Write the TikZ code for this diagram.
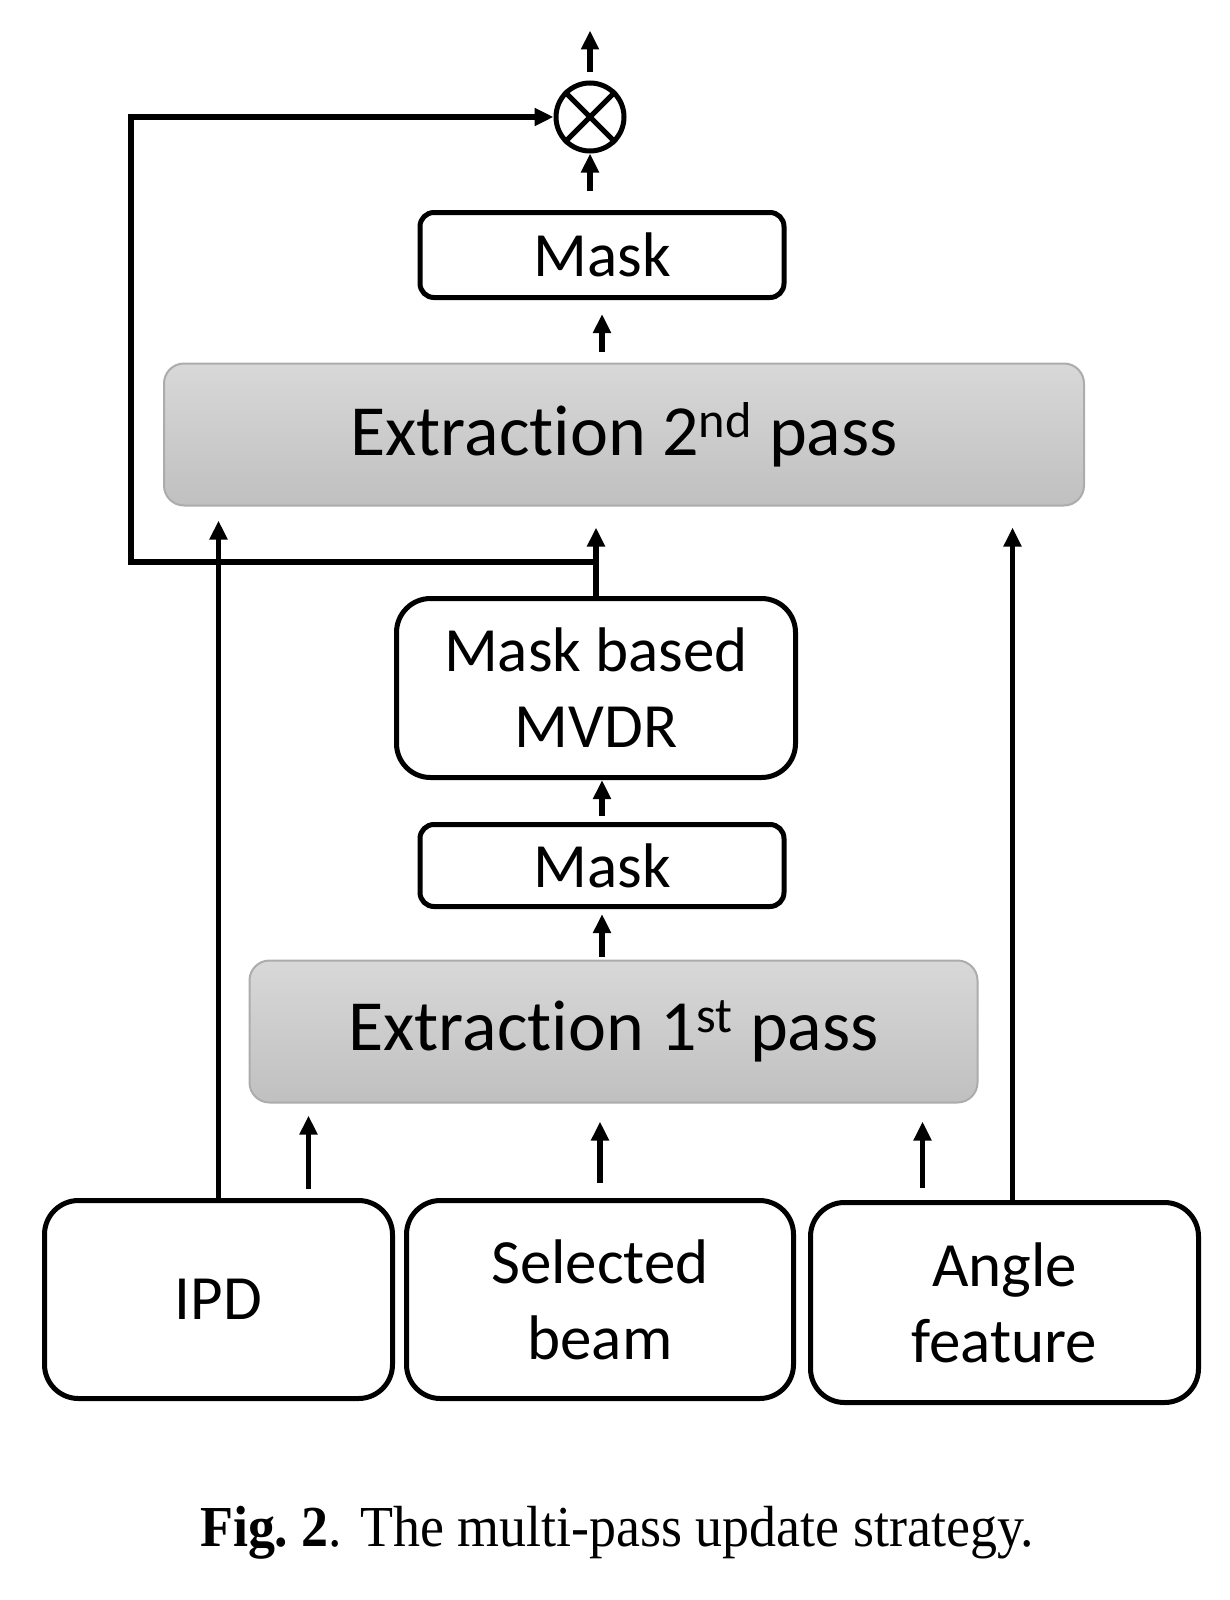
\documentclass[tikz,border=0pt]{standalone}
\usepackage{fontspec}
\setmainfont{Liberation Serif}
\newfontfamily\boxfont[Ligatures={NoCommon,NoContextual},RawFeature={-liga;-calt;-clig}]{Carlito}
\usetikzlibrary{arrows.meta}
\usetikzlibrary{calc}
\definecolor{passtop}{RGB}{216,216,216}
\definecolor{passbot}{RGB}{192,192,192}
\definecolor{passrim}{RGB}{172,172,172}

\begin{document}
\begin{tikzpicture}[x=0.5pt,y=-0.5pt,>={Triangle[length=9.5pt,width=8.5pt]},line width=2.75pt,
        box/.style={draw, line width=2.5pt, rounded corners=7pt, align=center, inner sep=0pt,
            font=\boxfont\fontsize{31.5pt}{38pt}\selectfont},
        bigbox/.style={box, rounded corners=17pt},
        passbox/.style={draw=passrim, line width=1pt, rounded corners=10pt, top color=passtop, bottom color=passbot,
            inner sep=0pt, font=\boxfont\fontsize{36pt}{44pt}\selectfont}]
        \useasboundingbox (0,0) rectangle (1230,1600);
        % inputs
        \node[bigbox, minimum width=174pt, minimum height=99pt] (ipd) at (218.5,1299.5) {IPD};
        \node[bigbox, minimum width=193.5pt, minimum height=99pt] (beam) at (600,1299.5) {Selected\\beam};
        \node[bigbox, minimum width=194pt, minimum height=100pt] (angle) at (1004.5,1302.5) {Angle\\feature};
        % first pass
        \node[passbox, minimum width=364pt, minimum height=71pt] (ext1) at (613.5,1031.5) {Extraction 1\textsuperscript{st} pass};
        \node[box, minimum width=182pt, minimum height=41pt] (mask1) at (602,865.5) {Mask};
        \node[bigbox, minimum width=199.5pt, minimum height=89.5pt] (mvdr) at (596,688) {Mask based\\MVDR};
        % second pass
        \node[passbox, minimum width=460pt, minimum height=71pt] (ext2) at (624,434.5) {Extraction 2\textsuperscript{nd} pass};
        \node[box, minimum width=182pt, minimum height=42.5pt] (mask2) at (602,255) {Mask};
        \node[draw, circle, line width=2.5pt, minimum size=34pt, inner sep=0pt] (mult) at (590,117) {};
        \draw[line width=2.5pt] (mult.north west) -- (mult.south east) (mult.north east) -- (mult.south west);

        \draw[->, shorten <=4.5pt, shorten >=6pt] ($(ipd.north)+(90,0)$) -- ($(ipd.north |- ext1.south)+(90,0)$);
        \draw[->, shorten <=7.5pt, shorten >=9pt] (beam.north) -- (beam.north |- ext1.south);
        \draw[->, shorten <=6pt, shorten >=9pt] ($(angle.north)+(-82,0)$) -- ($(angle.north |- ext1.south)+(-82,0)$);
        \draw[->, shorten >=7pt] (ipd.north) -- (ipd.north |- ext2.south);
        \draw[->, shorten >=10.5pt] ($(angle.north)+(8,0)$) -- ($(angle.north |- ext2.south)+(8,0)$);

        \draw[->, shorten <=1.5pt, shorten >=2.5pt] (mask1.south |- ext1.north) -- (mask1.south);
        \draw[->, shorten <=3pt] (mask1.north) -- (mask1.north |- mvdr.south);
        \draw[->, shorten >=10.5pt] (mvdr.north) -- (mvdr.north |- ext2.south);
        \coordinate (split) at ($(mvdr.north)+(0,-34)$);
        \draw[->] (split) -- ++(-465,0) |- (mult.west);
        \draw[->, shorten <=5.5pt, shorten >=7pt] (mask2.south |- ext2.north) -- (mask2.south);
        \draw[->, shorten <=9.5pt] (mult.south |- mask2.north) -- (mult.south);
        \draw[->] ([yshift=4pt]mult.north) -- ++(0,-42);

        \node[anchor=base, font=\fontsize{29pt}{34pt}\selectfont] (caption) at (617,1546) {\scalebox{0.93}[1]{\textbf{Fig.~2}. The multi-pass update strategy.}};
    \end{tikzpicture}
\end{document}
